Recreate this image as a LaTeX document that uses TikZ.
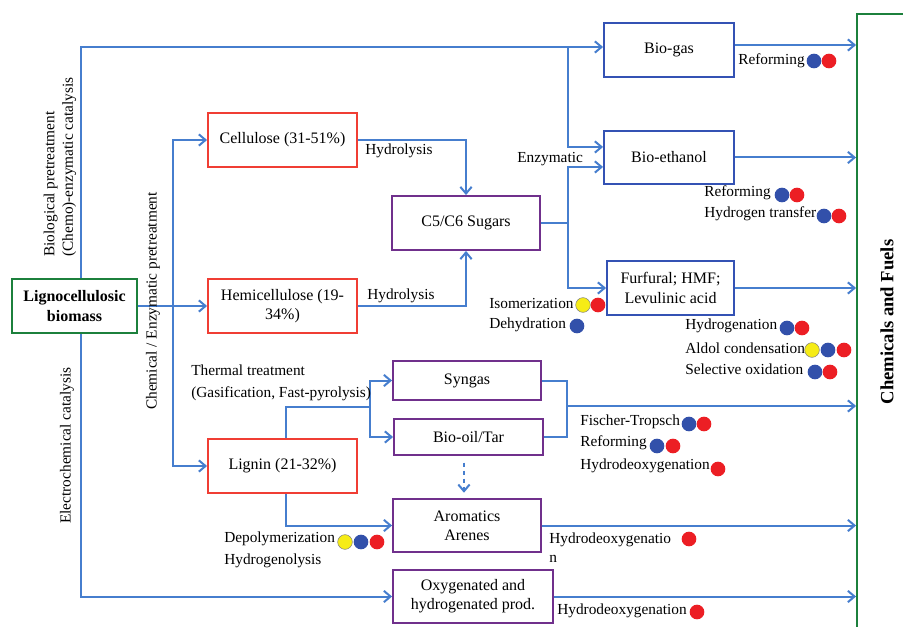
\documentclass[tikz,border=0pt]{standalone}
\usepackage{fontspec}
\setmainfont{Liberation Serif}
\usepackage{xcolor}
\usepackage{tikz}
\usetikzlibrary{arrows.meta}

\definecolor{lineblue}{RGB}{70,126,206}
\definecolor{boxred}{RGB}{240,62,52}
\definecolor{boxpurple}{RGB}{112,48,140}
\definecolor{boxgreen}{RGB}{28,128,60}
\definecolor{boxblue}{RGB}{52,82,180}
\definecolor{dotblue}{RGB}{50,80,170}
\definecolor{dotred}{RGB}{236,30,36}
\definecolor{dotyellow}{RGB}{246,236,22}

\begin{document}
\begin{tikzpicture}[x=0.75pt,y=-0.75pt,
% common options for blocks:
block/.style = {draw, line width=1.4pt, fill=white, align=center,
            inner sep=0, font=\fontsize{12}{14.5}\selectfont},
% common options for the arrows:
link/.style = {draw=lineblue, line width=1.5pt, -{Straight Barb[length=5pt,width=8.5pt]}},
wire/.style = {draw=lineblue, line width=1.5pt},
% common options for the labels:
lab/.style = {anchor=west, inner sep=0, font=\fontsize{11.5}{14}\selectfont},
% common options for the circles:
ball/.style = {circle, inner sep=0, minimum size=11pt}]
\useasboundingbox (0,0) rectangle (903,627);

% feedstock
\node[block,draw=boxgreen,minimum width=93.75pt,minimum height=40.5pt] (A0) at (74.5,306) {\textbf{Lignocellulosic}\\\textbf{biomass}};

% fractions
\node[block,draw=boxred,minimum width=111.75pt,minimum height=40.5pt] (B1) at (282.5,140) {Cellulose (31-51\%)};
\node[block,draw=boxred,minimum width=111.75pt,minimum height=40.5pt] (B2) at (282.5,306) {Hemicellulose (19-\\34\%)};
\node[block,draw=boxred,minimum width=111.75pt,minimum height=40.5pt] (B3) at (282.5,466) {Lignin (21-32\%)};

% intermediates
\node[block,draw=boxpurple,minimum width=111pt,minimum height=40.5pt] (C1) at (466,223) {C5/C6 Sugars};
\node[block,draw=boxpurple,minimum width=111pt,minimum height=29.25pt] (C2) at (467,380.5) {Syngas};
\node[block,draw=boxpurple,minimum width=111.75pt,minimum height=27pt] (C3) at (468.5,437) {Bio-oil/Tar};
\node[block,draw=boxpurple,minimum width=111pt,minimum height=39.75pt] (C4) at (467,525.5) {Aromatics\\Arenes};
\node[block,draw=boxpurple,minimum width=120pt,minimum height=39.75pt] (C5) at (473,596.5) {Oxygenated and\\hydrogenated prod.};

% platform products
\node[block,draw=boxblue,minimum width=97.5pt,minimum height=40.5pt] (D1) at (669,50) {Bio-gas};
\node[block,draw=boxblue,minimum width=97.5pt,minimum height=39.75pt] (D2) at (669,157.5) {Bio-ethanol};
\node[block,draw=boxblue,minimum width=95.25pt,minimum height=40.5pt] (D3) at (670.5,288) {Furfural; HMF;\\Levulinic acid};

% chemicals and fuels
\node[draw=boxgreen,line width=1.4pt,minimum width=77.25pt,minimum height=499.5pt,inner sep=0] (E0) at (908.5,347) {};
\node[rotate=90,inner sep=0,font=\bfseries\fontsize{14}{16}\selectfont] (E1) at (887,322) {Chemicals and Fuels};

% junctions
\coordinate (J1) at (568,47);
\coordinate (J2) at (568,223);
\coordinate (J3) at (173,306);
\coordinate (J4) at (370,407);
\coordinate (J5) at (567,406);

% routes
\draw[link] ([xshift=5pt]A0.north) |- ([yshift=2.25pt]D1.west);
\draw[link] (J1) |- ([yshift=7.9pt]D2.west);
\draw[wire] (C1.east) -- (J2);
\draw[link] (J2) |- ([yshift=-7.1pt]D2.west);
\draw[link] (J2) |- (D3.west);
\draw[link] ([yshift=3.75pt]D1.east) -- ([yshift=3.75pt]D1.east -| E0.west);
\draw[link] (D2.east) -- (D2.east -| E0.west);
\draw[link] (D3.east) -- (D3.east -| E0.west);
\draw[link] (A0.east) -- (B2.west);
\draw[link] (J3) |- (B1.west);
\draw[link] (J3) |- (B3.west);
\draw[link] (B1.east) -| (C1.north);
\draw[link] (B2.east) -| (C1.south);
\draw[wire] ([xshift=2.5pt]B3.north) |- (J4);
\draw[link] (J4) |- (C2.west);
\draw[link] (J4) |- (C3.west);
\draw[wire] (C2.east) -| (J5) |- (C3.east);
\draw[link] (J5) -- (J5 -| E0.west);
\draw[link,dashed,shorten <=5pt,shorten >=4pt] ([xshift=-3.4pt]C3.south) -- ([xshift=-3.4pt]C3.south |- C4.north);
\draw[link] ([xshift=2.5pt]B3.south) |- (C4.west);
\draw[link] (C4.east) -- (C4.east -| E0.west);
\draw[link] ([xshift=5pt]A0.south) |- (C5.west);
\draw[link] (C5.east) -- (C5.east -| E0.west);

% route labels
\node[lab,rotate=90,align=left] (R1) at (60,257) {Biological pretreatment\\(Chemo)-enzymatic catalysis};
\node[lab,rotate=90] (R2) at (153,410) {Chemical / Enzymatic pretreatment};
\node[lab,rotate=90] (R3) at (67,524) {Electrochemical catalysis};
\node[lab] (L1) at (365,151) {Hydrolysis};
\node[lab] (L2) at (367,296) {Hydrolysis};
\node[lab] (L3) at (517,159) {Enzymatic};
\node[lab,align=left] (L4) at (191,383) {Thermal treatment\\[2.5pt](Gasification, Fast-pyrolysis)};

% catalysis labels
\node[lab] (K1) at (738,61) {Reforming};
\node[ball,fill=dotblue] (K1a) at (814,61) {};
\node[ball,fill=dotred] (K1b) at (829,61) {};
\node[lab] (K2) at (704,193) {Reforming};
\node[ball,fill=dotblue] (K2a) at (782,195) {};
\node[ball,fill=dotred] (K2b) at (797,195) {};
\node[lab] (K3) at (704,214) {Hydrogen transfer};
\node[ball,fill=dotblue] (K3a) at (824,216) {};
\node[ball,fill=dotred] (K3b) at (839,216) {};
\node[lab] (K4) at (489,303) {Isomerization};
\node[ball,fill=dotyellow,draw=gray,thin] (K4a) at (583,305) {};
\node[ball,fill=dotred] (K4b) at (598,305) {};
\node[lab] (K5) at (489,325) {Dehydration};
\node[ball,fill=dotblue] (K5a) at (577,326) {};
\node[lab] (K6) at (685,326) {Hydrogenation};
\node[ball,fill=dotblue] (K6a) at (787,328) {};
\node[ball,fill=dotred] (K6b) at (802,328) {};
\node[lab] (K7) at (685,348) {Aldol condensation};
\node[ball,fill=dotyellow,draw=gray,thin] (K7a) at (812,350) {};
\node[ball,fill=dotblue] (K7b) at (828,350) {};
\node[ball,fill=dotred] (K7c) at (844,350) {};
\node[lab] (K8) at (685,369) {Selective oxidation};
\node[ball,fill=dotblue] (K8a) at (815,372) {};
\node[ball,fill=dotred] (K8b) at (830,372) {};
\node[lab] (K9) at (580,422) {Fischer-Tropsch};
\node[ball,fill=dotblue] (K9a) at (689,424) {};
\node[ball,fill=dotred] (K9b) at (704,424) {};
\node[lab] (K10) at (580,443) {Reforming};
\node[ball,fill=dotblue] (K10a) at (657,446) {};
\node[ball,fill=dotred] (K10b) at (673,446) {};
\node[lab] (K11) at (580,466) {Hydrodeoxygenation};
\node[ball,fill=dotred] (K11a) at (718,469) {};
\node[lab] (K12) at (224,539) {Depolymerization};
\node[ball,fill=dotyellow,draw=gray,thin] (K12a) at (345,542) {};
\node[ball,fill=dotblue] (K12b) at (361,542) {};
\node[ball,fill=dotred] (K12c) at (377,542) {};
\node[lab] (K13) at (224,561) {Hydrogenolysis};
\node[lab,align=left] (K14) at (549,548) {Hydrodeoxygenatio\\n};
\node[ball,fill=dotred] (K14a) at (689,539) {};
\node[lab] (K15) at (557,611) {Hydrodeoxygenation};
\node[ball,fill=dotred] (K15a) at (697,612) {};
\end{tikzpicture}
\end{document}
